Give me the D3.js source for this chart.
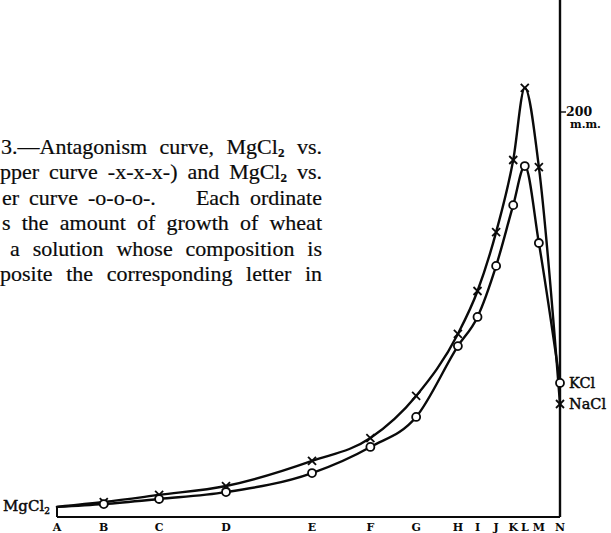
<!DOCTYPE html>
<html>
<head>
<meta charset="utf-8">
<script src="https://cdn.jsdelivr.net/npm/d3@7"></script>
<style>
  html, body { margin: 0; padding: 0; background: #fff; }
  svg { display: block; }
</style>
</head>
<body>
<svg id="chart" width="611" height="533"></svg>
<script>
// ---- data ----
const categories = ["A","B","C","D","E","F","G","H","I","J","K","L","M","N"];
// abscissa of each solution, in % of the A–N distance
const positions = [0, 9.3, 20.3, 33.6, 50.7, 62.3, 71.4, 79.7, 83.6, 87.3, 90.7, 93.0, 95.8, 100];
// growth in mm, upper curve (MgCl2 vs. NaCl, -x-x-x-)
const upperNaCl = [5, 7.4, 10.9, 15.3, 27.7, 39.0, 59.8, 90.4, 111.6, 140.7, 176.3, 211.9, 172.8, 55.8];
// growth in mm, lower curve (MgCl2 vs. KCl, -o-o-o-)
const lowerKCl  = [5, 6.4, 8.9, 12.3, 21.7, 34.6, 49.4, 84.4, 98.8, 124.0, 154.0, 173.3, 135.3, 66.2];
const yTickValues = [200];
const yTickUnit = "m.m.";
const captionLines = [
  ["3.—Antagonism", "curve,", "MgCl₂", "vs."],
  ["pper", "curve", "-x-x-x-)", "and", "MgCl₂", "vs."],
  ["er", "curve", "-o-o-o-.", "Each", "ordinate"],
  ["s", "the", "amount", "of", "growth", "of", "wheat"],
  ["a", "solution", "whose", "composition", "is"],
  ["posite", "the", "corresponding", "letter", "in"]
];

// ---- layout ----
const svg = d3.select("#chart");
const x = d3.scaleLinear().domain([0, 100]).range([57, 560]);
const y = d3.scaleLinear().domain([0, 200]).range([517, 112]);
const serif = "'DejaVu Serif', 'Liberation Serif', serif";
const bookSerif = "'Liberation Serif', 'DejaVu Serif', serif";
const ink = "#0a0a0a";

// caption (justified)
const capLeft = [1, 0, 2, 2, 10, 0];
const capRight = 322;
const capTop = 154, capStep = 25.4;
function addWord(g, w) {
  const t = g.append("text").attr("font-family", bookSerif).attr("font-size", 22)
    .attr("fill", ink).attr("stroke", ink).attr("stroke-width", 0.2);
  if (w.includes("₂")) {
    const parts = w.split("₂");
    t.append("tspan").text(parts[0]);
    t.append("tspan").attr("font-size", 13).attr("font-weight", "bold").attr("dy", 3).text("2");
    if (parts[1]) t.append("tspan").attr("dy", -3).text(parts[1]);
  } else {
    t.text(w);
  }
  return t;
}
captionLines.forEach((words, i) => {
  const g = svg.append("g");
  const by = capTop + i * capStep;
  const nodes = words.map(w => addWord(g, w).attr("y", by));
  const widths = nodes.map(n => n.node().getComputedTextLength());
  const total = d3.sum(widths);
  const weights = words.slice(0, -1).map(w => /\.$/.test(w) && w.startsWith("-") ? 4 : 1);
  const unit = Math.max(3, (capRight - capLeft[i] - total) / d3.sum(weights));
  let cx = capLeft[i];
  nodes.forEach((n, k) => {
    n.attr("x", cx);
    cx += widths[k] + (k < weights.length ? weights[k] * unit : 0);
  });
});

// axes / frame
const frame = svg.append("g").attr("stroke", ink).attr("fill", "none");
frame.append("line").attr("x1", x(0)).attr("x2", x(100)).attr("y1", y(0)).attr("y2", y(0)).attr("stroke-width", 2.2);
frame.append("line").attr("x1", x(100)).attr("x2", x(100)).attr("y1", 0).attr("y2", y(0)).attr("stroke-width", 2.4);
frame.append("line").attr("x1", x(0)).attr("x2", x(0)).attr("y1", y(0)).attr("y2", y(upperNaCl[0])).attr("stroke-width", 2);

yTickValues.forEach(v => {
  frame.append("line").attr("x1", x(100)).attr("x2", x(100) + 6).attr("y1", y(v)).attr("y2", y(v)).attr("stroke-width", 1.4);
  svg.append("text").attr("x", x(100) + 6).attr("y", y(v) + 4).attr("font-family", serif)
    .attr("font-weight", "bold").attr("font-size", 12.5).attr("fill", ink).text(v);
  svg.append("text").attr("x", x(100) + 10).attr("y", y(v) + 16).attr("font-family", serif)
    .attr("font-weight", "bold").attr("font-size", 11).attr("fill", ink).text(yTickUnit);
});

// category letters
svg.append("g").selectAll("text").data(categories).join("text")
  .attr("x", (d, i) => x(positions[i]))
  .attr("y", 531)
  .attr("text-anchor", "middle")
  .attr("font-family", serif).attr("font-weight", "bold").attr("font-size", 11)
  .attr("fill", ink)
  .text(d => d);

// curves
const line = d3.line()
  .x((d, i) => x(positions[i]))
  .y(d => y(d))
  .curve(d3.curveMonotoneX);
[upperNaCl, lowerKCl].forEach(s => {
  svg.append("path").datum(s).attr("d", line)
    .attr("fill", "none").attr("stroke", ink).attr("stroke-width", 2.4)
    .attr("stroke-linejoin", "round").attr("stroke-linecap", "round");
});

// markers (skip A, which is the MgCl2 start)
const idx = d3.range(1, categories.length);
const xm = svg.append("g").attr("stroke", ink).attr("stroke-width", 1.8);
idx.forEach(i => {
  const cx = x(positions[i]), cy = y(upperNaCl[i]), r = 4;
  xm.append("line").attr("x1", cx - r).attr("x2", cx + r).attr("y1", cy - r).attr("y2", cy + r);
  xm.append("line").attr("x1", cx - r).attr("x2", cx + r).attr("y1", cy + r).attr("y2", cy - r);
});
svg.append("g").selectAll("circle").data(idx).join("circle")
  .attr("cx", i => x(positions[i]))
  .attr("cy", i => y(lowerKCl[i]))
  .attr("r", 4)
  .attr("fill", "#fff").attr("stroke", ink).attr("stroke-width", 1.8);

// end labels
function chemLabel(txt, xx, yy, size) {
  const t = svg.append("text").attr("x", xx).attr("y", yy).attr("font-family", serif)
    .attr("font-size", size).attr("fill", ink).attr("stroke", ink).attr("stroke-width", 0.45);
  t.append("tspan").text(txt);
  return t;
}
chemLabel("KCl", x(100) + 9, y(lowerKCl[13]) + 5, 14.5);
chemLabel("NaCl", x(100) + 9, y(upperNaCl[13]) + 5, 14.5);
const mg = chemLabel("MgCl", 3, 511, 15);
mg.append("tspan").attr("font-size", 9).attr("dy", 3).text("2");
</script>
</body>
</html>
